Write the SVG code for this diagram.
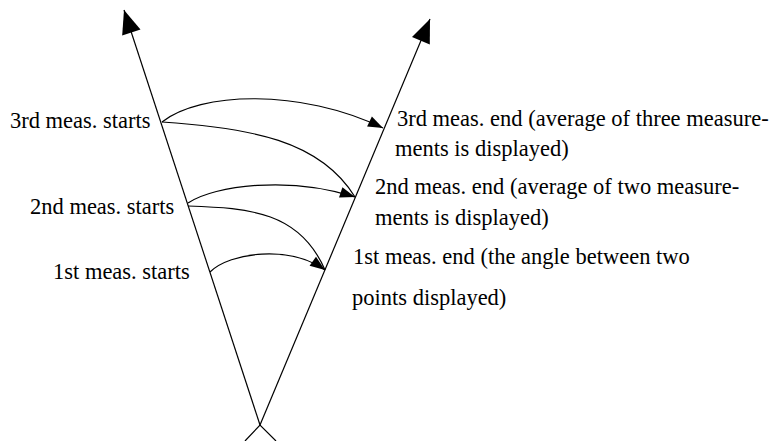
<svg xmlns="http://www.w3.org/2000/svg" width="771" height="441" viewBox="0 0 771 441">
  <style>
    .ax { stroke: #000; stroke-width: 1.2; fill: none; }
    .arc { stroke: #000; stroke-width: 1.2; fill: none; }
    .t { font-family: 'Liberation Serif', 'Times New Roman', serif; font-size: 22.5px; fill: #000; }
  </style>
  <defs>
    <marker id="big" markerUnits="userSpaceOnUse" markerWidth="30" markerHeight="30" viewBox="-24 -12 28 24" refX="0" refY="0" orient="auto">
      <path d="M0,0 L-22,-9 L-22,9 z" fill="#000"/>
    </marker>
    <marker id="small" markerUnits="userSpaceOnUse" markerWidth="20" markerHeight="20" viewBox="-18 -9 20 18" refX="0" refY="0" orient="auto">
      <path d="M0,0 L-15,-5.5 L-15,5.5 z" fill="#000"/>
    </marker>
  </defs>

  <g id="axes">
    <path class="ax" d="M260,425 L124,10" marker-end="url(#big)"/>
    <path class="ax" d="M260,425 L430,19" marker-end="url(#big)"/>
    <path class="ax" d="M245,441 L260,425 L276,441"/>
  </g>

  <g id="connectors">
    <path class="arc" d="M162,122 C200,92 300,88 383,128" marker-end="url(#small)"/>
    <path class="arc" d="M162,122 C250,128 320,140 355,197"/>
    <path class="arc" d="M188,203 C215,185 290,176 355,197" marker-end="url(#small)"/>
    <path class="arc" d="M188,206 C250,208 300,212 325,270"/>
    <path class="arc" d="M210,272 C230,252 290,245 325,270" marker-end="url(#small)"/>
  </g>

  <g id="start3"><text class="t" x="10" y="128">3rd meas. starts</text></g>
  <g id="start2"><text class="t" x="30" y="214">2nd meas. starts</text></g>
  <g id="start1"><text class="t" x="53" y="279">1st meas. starts</text></g>

  <g id="end3">
    <text class="t" x="397" y="126">3rd meas. end (average of three measure-</text>
    <text class="t" x="395" y="156">ments is displayed)</text>
  </g>
  <g id="end2">
    <text class="t" x="375" y="194">2nd meas. end (average of two measure-</text>
    <text class="t" x="375" y="225">ments is displayed)</text>
  </g>
  <g id="end1">
    <text class="t" x="353" y="264">1st meas. end (the angle between two</text>
    <text class="t" x="352" y="305">points displayed)</text>
  </g>
</svg>
